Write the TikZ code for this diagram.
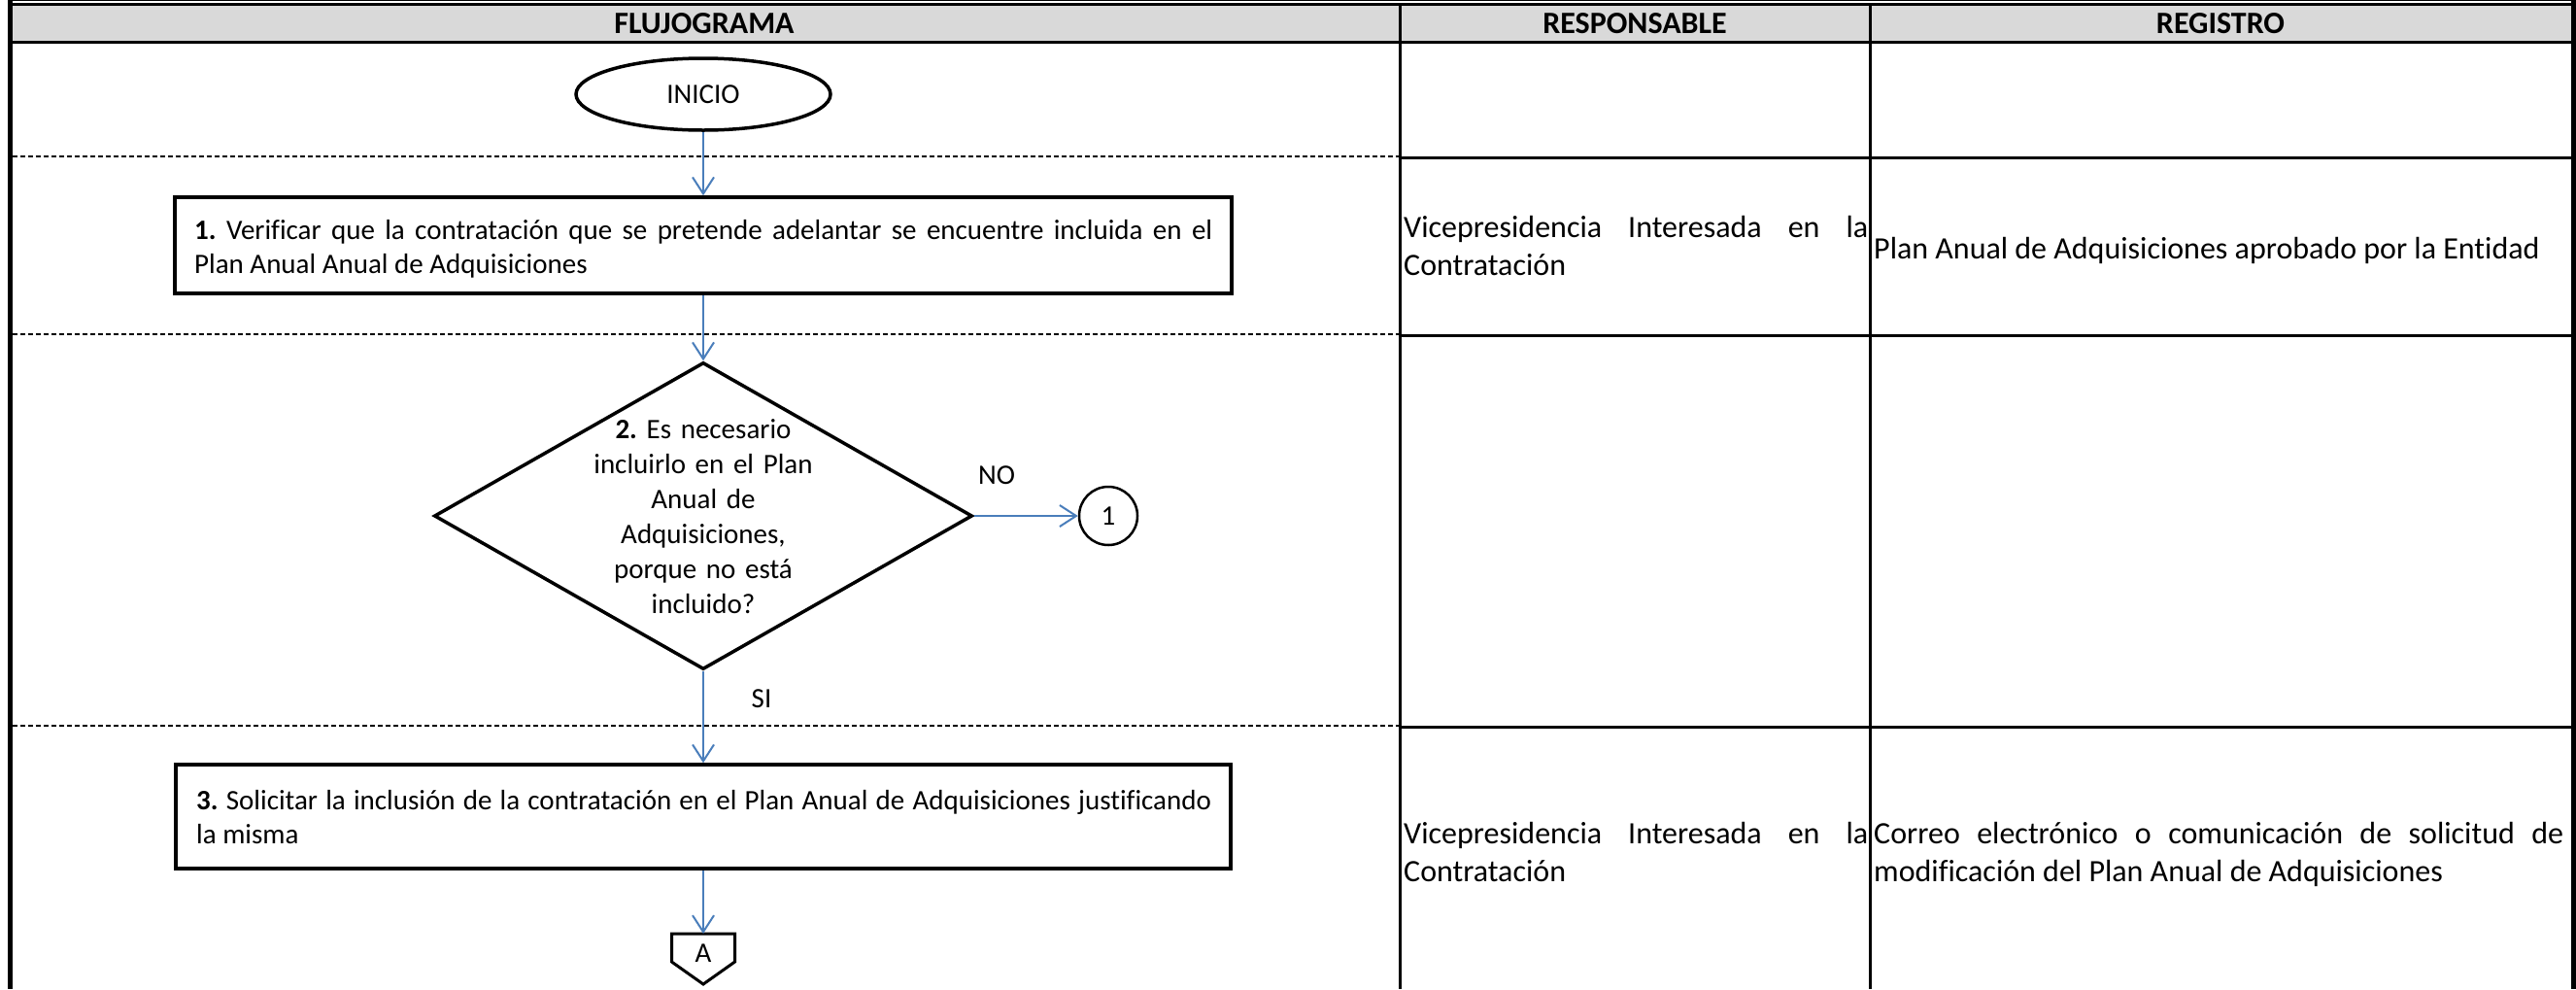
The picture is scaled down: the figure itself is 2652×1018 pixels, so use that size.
\documentclass[tikz,border=0pt]{standalone}
\usepackage{fontspec}
\setmainfont{Carlito}[Ligatures=NoCommon]
\usetikzlibrary{shapes.geometric,arrows.meta,calc}
\definecolor{hdrgray}{HTML}{D9D9D9}
\definecolor{arrblue}{HTML}{4A7EBB}
\newcommand{\fsz}[2]{\fontsize{#1}{#2}\selectfont\frenchspacing\spaceskip=0.226em plus 0.8em minus 0.05em\hyphenpenalty=10000\exhyphenpenalty=10000\tolerance=9000}
\tikzset{
  hdr/.style={font=\fsz{32}{39}\bfseries, inner sep=0pt},
  term/.style={ellipse, draw, line width=3.5pt, minimum width=262pt, minimum height=74pt, inner sep=0pt, font=\fsz{29}{35}},
  proc/.style={rectangle, draw, line width=3.5pt, inner sep=0pt},
  ptext/.style={text width=#1, align=justify, font=\fsz{29}{35}, inner sep=0pt, anchor=base west},
  dec/.style={diamond, draw, line width=3.5pt, minimum width=554pt, minimum height=316pt, inner sep=0pt},
  dtext/.style={text width=360pt, align=center, font=\fsz{29}{36}, inner sep=0pt, anchor=base},
  conn/.style={circle, draw, line width=2.5pt, minimum size=60pt, inner sep=0pt, font=\fsz{29}{35}},
  lbl/.style={font=\fsz{29}{35}, inner sep=0pt},
  ctext/.style={text width=#1, align=justify, font=\fsz{32}{39}, inner sep=0pt, anchor=base west},
  arr/.style={draw=arrblue, line width=2pt, -{Straight Barb[length=17pt,width=22pt]}},
  rowsolid/.style={line width=3pt},
  rowdash/.style={line width=2pt, dash pattern=on 5pt off 3pt},
}
\begin{document}
\begin{tikzpicture}[x=1pt,y=-1pt]
\useasboundingbox (0,0) rectangle (2652,1018);
% header band
\fill[hdrgray] (10,5) rectangle (2648,43);
\draw[line width=1pt] (8,0.5) -- (2652,0.5);
\draw[line width=2.7pt] (8,4.6) -- (2652,4.6);
\draw[line width=3.5pt] (8,43.7) -- (2648,43.7);
% outer borders and columns
\draw[line width=4.5pt] (10.5,0) -- (10.5,1018);
\draw[line width=5pt] (2649.5,0) -- (2649.5,1018);
\draw[line width=3pt] (1441,4) -- (1441,1018);
\draw[line width=3pt] (1925,4) -- (1925,1018);
% row separators
\foreach \yy in {162,345,748} {
  \draw[rowsolid] (1441,\yy) -- (2648,\yy);
  \draw[rowdash] (12.75,\yy-1) -- (1441,\yy-1);
}
% header texts
\node[hdr] (hF) at (725,24) {FLUJOGRAMA};
\node[hdr] (hR) at (1683,24) {RESPONSABLE};
\node[hdr] (hG) at (2286,24) {REGISTRO};
% flowchart
\node[term] (inicio) at (724,97) {INICIO};
\node[proc, minimum width=1088pt, minimum height=99pt] (p1) at (724,252.5) {};
\node[ptext=1048pt] (t1) at (200,246) {\textbf{1.} Verificar que la contratación que se pretende adelantar se encuentre incluida en el Plan Anual Anual de Adquisiciones};
\node[dec] (d2) at (724,531) {};
\node[dtext] (t2) at (724,451) {\textbf{2.} Es necesario\\incluirlo en el Plan\\Anual de\\Adquisiciones,\\porque no está\\incluido?};
\node[conn] (c1) at (1141,531) {1};
\node[lbl] (no) at (1026,489) {NO};
\node[lbl] (si) at (784,719) {SI};
\node[proc, minimum width=1086pt, minimum height=107pt] (p3) at (724,840.5) {};
\node[ptext=1045pt] (t3) at (202,833) {\textbf{3.} Solicitar la inclusión de la contratación en el Plan Anual de Adquisiciones justificando la misma};
\node[minimum width=65pt, minimum height=52pt, inner sep=0pt, outer sep=0pt] (pA) at (724,987) {};
\draw[line width=3pt, line join=miter] (pA.north west) -- (pA.north east) -- ($(pA.north east)+(0,29)$) -- (pA.south) -- ($(pA.north west)+(0,29)$) -- cycle;
\node[lbl] (At) at (724,981) {A};
% connectors
\draw[arr] (inicio.south) -- (p1.north);
\draw[arr] (p1.south) -- (d2.north);
\draw[arr] (d2.east) -- (c1.west);
\draw[arr] (d2.south) -- (p3.north);
\draw[arr] (p3.south) -- (pA.north);
% responsable / registro
\node[ctext=478pt] (r2) at (1445,244) {Vicepresidencia Interesada en la Contratación};
\node[ctext=710pt] (g2) at (1929,266) {Plan Anual de Adquisiciones aprobado por la Entidad};
\node[ctext=478pt] (r4) at (1445,868) {Vicepresidencia Interesada en la Contratación};
\node[ctext=710pt] (g4) at (1929,868) {Correo electrónico o comunicación de solicitud de modificación del Plan Anual de Adquisiciones};
\end{tikzpicture}
\end{document}
